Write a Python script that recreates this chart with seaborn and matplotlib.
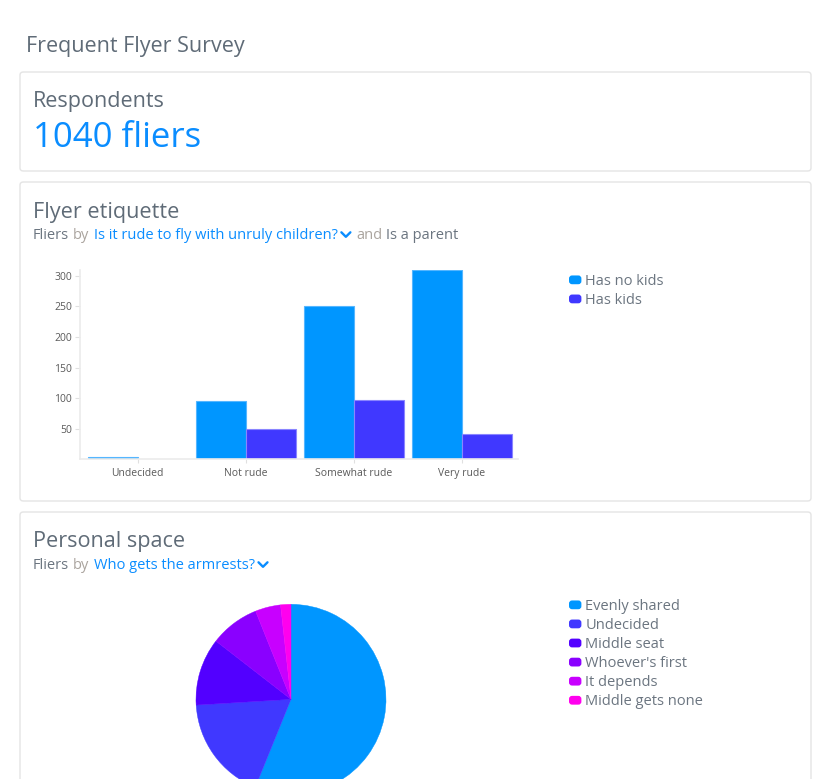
import numpy as np
import pandas as pd
import matplotlib
matplotlib.use("Agg")
import matplotlib.pyplot as plt
import seaborn as sns
from matplotlib.patches import FancyBboxPatch, Patch
from matplotlib.lines import Line2D
from matplotlib.legend_handler import HandlerBase

# ---------------- data ----------------
rude_categories = ["Undecided", "Not rude", "Somewhat rude", "Very rude"]
parent_groups = ["Has no kids", "Has kids"]
no_kids_counts = [4, 96, 251, 309]
kids_counts = [0, 50, 97, 41]
bar_colors = ["#0096ff", "#4038ff"]
bar_edges = ["#55b6ff", "#8a85ff"]
y_ticks = [50, 100, 150, 200, 250, 300]

armrest_labels = ["Evenly shared", "Undecided", "Middle seat",
                  "Whoever's first", "It depends", "Middle gets none"]
armrest_counts = [480, 153, 98, 72, 37, 15]
pie_colors = ["#0096ff", "#4038ff", "#5200ff", "#8a00ff", "#c800ff", "#ff00ee"]

respondents = 1040

# ---------------- style ----------------
sns.set_theme(style="white")
plt.rcParams["font.family"] = ["Open Sans", "DejaVu Sans"]

W, H = 832, 779
fig = plt.figure(figsize=(W / 100, H / 100), dpi=100)
fig.patch.set_facecolor("white")

def fx(x):
    return x / W

def fy(y):
    return 1 - y / H

HEAD = "#5f6b77"
SUB = "#6b7580"
LIGHT = "#aaa49e"
BLUE = "#0a8dff"

# cards
for (y0, y1) in [(72, 171), (182, 501), (512, 800)]:
    card = FancyBboxPatch((fx(20), fy(y1)), fx(811) - fx(20), fy(y0) - fy(y1),
                          boxstyle="round,pad=0,rounding_size=0.004",
                          transform=fig.transFigure, facecolor="white",
                          edgecolor="#e4e4e4", linewidth=1.0, zorder=-5)
    fig.patches.append(card)

def put(x, y, s, **kw):
    return fig.text(fx(x), fy(y), s, va="baseline", ha="left", **kw)

renderer = fig.canvas.get_renderer()

def chevron(x, y):
    fig.add_artist(Line2D([fx(x), fx(x + 4.5), fx(x + 9)],
                          [fy(y - 7), fy(y - 2.5), fy(y - 7)],
                          transform=fig.transFigure, color=BLUE, lw=1.7,
                          solid_capstyle="round", solid_joinstyle="round"))

def sequence(x, y, pieces, size):
    for s, color in pieces:
        if s is None:
            chevron(x, y)
            x += 15
            continue
        t = put(x, y, s, color=color, fontsize=size)
        bb = t.get_window_extent(renderer)
        x = bb.x1 + 4

put(26, 52, "Frequent Flyer Survey", color=HEAD, fontsize=15.5)
put(33, 107.3, "Respondents", color=HEAD, fontsize=15.5)
put(33, 146.7, f"{respondents} fliers", color=BLUE, fontsize=25)

put(33, 218.3, "Flyer etiquette", color=HEAD, fontsize=15.6)
sequence(33, 239.3, [("Fliers", SUB), ("by", LIGHT),
                     ("Is it rude to fly with unruly children?", BLUE), (None, None),
                     ("and", LIGHT), ("Is a parent", SUB)], 10.5)

put(33, 547.3, "Personal space", color=HEAD, fontsize=15.6)
sequence(33, 569.3, [("Fliers", SUB), ("by", LIGHT),
                     ("Who gets the armrests?", BLUE), (None, None)], 10.5)

# ---------------- bar chart ----------------
df = pd.DataFrame({
    "answer": rude_categories * 2,
    "group": [parent_groups[0]] * 4 + [parent_groups[1]] * 4,
    "fliers": no_kids_counts + kids_counts,
})
ax = fig.add_axes([fx(80), fy(459.3), fx(517.5) - fx(80), fy(269.6) - fy(459.3)])
sns.barplot(data=df, x="answer", y="fliers", hue="group", order=rude_categories,
            hue_order=parent_groups, palette=bar_colors, saturation=1,
            width=0.93, gap=0, errorbar=None, legend=False, ax=ax, linewidth=0.8)
for cont, ec in zip(ax.containers, bar_edges):
    for bar in cont:
        if bar.get_height() == 0:
            bar.set_visible(False)
        bar.set_edgecolor(ec)
ax.set_ylim(0, 310)
ax.set_xlim(-0.535, 3.515)
ax.set_yticks(y_ticks)
ax.set_xlabel("")
ax.set_ylabel("")
for side in ["top", "right"]:
    ax.spines[side].set_visible(False)
for side in ["left", "bottom"]:
    ax.spines[side].set_color("#ebebeb")
    ax.spines[side].set_linewidth(1.2)
ax.tick_params(axis="y", length=3.6, width=0.8, color="#e0e0e0", pad=2,
               labelsize=7.5, labelcolor="#5a5a5a", left=True)
ax.tick_params(axis="x", length=3, width=0.8, color="#e0e0e0", pad=3,
               labelsize=7.5, labelcolor="#5a5a5a", bottom=True)
ax.patch.set_alpha(0)


class RoundHandler(HandlerBase):
    def create_artists(self, legend, orig_handle, xdescent, ydescent,
                       width, height, fontsize, trans):
        p = FancyBboxPatch((-xdescent, -ydescent), width, height,
                           boxstyle="round,pad=0,rounding_size=2.2",
                           facecolor=orig_handle.get_facecolor(),
                           edgecolor="none", transform=trans)
        return [p]


def make_legend(labels, colors, x, y):
    handles = [Patch(facecolor=c, label=l) for l, c in zip(labels, colors)]
    fig.legend(handles=handles, loc="upper left",
               bbox_to_anchor=(fx(x), fy(y)), frameon=False, fontsize=10.5,
               handlelength=0.85, handleheight=0.55, handletextpad=0.28,
               labelspacing=0.28, borderpad=0, borderaxespad=0,
               labelcolor=SUB, handler_map={Patch: RoundHandler()})

make_legend(parent_groups, bar_colors, 569, 274)

# ---------------- pie chart ----------------
ax2 = fig.add_axes([fx(196), fy(794.3), fx(386) - fx(196), fy(604.3) - fy(794.3)])
wedges, _ = ax2.pie(armrest_counts, colors=pie_colors, startangle=90,
                    counterclock=False, wedgeprops=dict(linewidth=0.3))
for w in wedges:
    w.set_edgecolor(w.get_facecolor())
ax2.set_xlim(-1, 1)
ax2.set_ylim(-1, 1)

make_legend(armrest_labels, pie_colors, 569, 599)

fig.savefig("out.png", dpi=100, facecolor="white")
